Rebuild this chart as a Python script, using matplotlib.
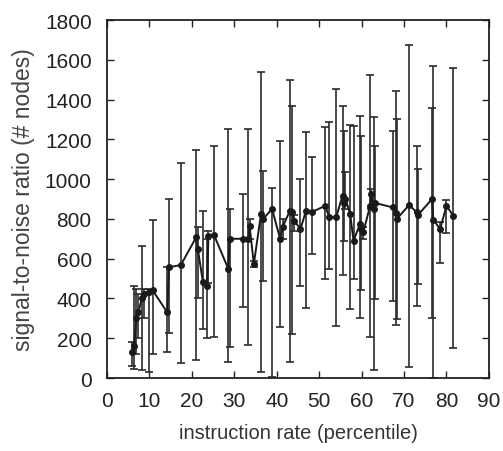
import numpy as np
import matplotlib
matplotlib.use('Agg')
import matplotlib.pyplot as plt

# instruction rate (percentile) and signal-to-noise ratio, with error bar ends
rate = [6.0, 6.4, 6.9, 7.4, 8.2, 8.8, 9.8, 10.8, 14.2, 14.6, 17.4, 21.0, 21.4,
        22.6, 23.6, 23.9, 25.2, 28.6, 28.9, 32.0, 33.3, 33.6, 34.6, 36.3, 36.8,
        38.9, 40.8, 41.4, 43.1, 43.5, 44.1, 45.6, 46.9, 48.2, 51.4, 52.4, 54.0,
        55.5, 55.8, 56.2, 57.3, 58.1, 59.6, 59.9, 60.4, 62.0, 62.3, 62.9, 63.2,
        67.3, 68.1, 68.3, 71.2, 73.0, 73.3, 76.6, 76.9, 78.5, 80.0, 81.6]
snr = [130, 160, 300, 330, 400, 420, 430, 440, 330, 557, 568, 707, 650,
       483, 464, 716, 720, 548, 700, 700, 700, 766, 573, 825, 800,
       850, 700, 760, 841, 833, 791, 749, 841, 833, 866, 808, 808,
       917, 880, 900, 825, 690, 774, 750, 733, 866, 925, 850, 880,
       858, 830, 800, 870, 833, 820, 900, 796, 749, 866, 816]
snr_low = [62, 45, 120, 200, 42, 300, 30, 120, 130, 226, 75, 90, 400,
           246, 200, 480, 205, 82, 155, 355, 168, 700, 560, 32, 489,
           5, 255, 700, 82, 221, 740, 464, 350, 623, 498, 548, 263,
           518, 690, 850, 347, 498, 300, 444, 700, 205, 850, 42, 397,
           389, 265, 297, 55, 360, 473, 300, 0, 577, 729, 149]
snr_high = [180, 464, 450, 420, 665, 450, 450, 796, 560, 900, 1081, 1148, 760,
            840, 700, 740, 1168, 1252, 850, 925, 1252, 800, 590, 1540, 1042,
            955, 1193, 800, 1500, 1366, 820, 1000, 1235, 1110, 1260, 1289, 1453,
            1369, 1243, 1034, 1274, 1269, 1319, 1218, 760, 1524, 950, 1311, 1165,
            1243, 1445, 1302, 1674, 1165, 1051, 1356, 1567, 786, 897, 1557]

xticks = [0, 10, 20, 30, 40, 50, 60, 70, 80, 90]
yticks = [0, 200, 400, 600, 800, 1000, 1200, 1400, 1600, 1800]

narrow = ['Liberation Sans Narrow', 'Liberation Sans', 'DejaVu Sans']
plt.rcParams['font.family'] = narrow

fig = plt.figure(figsize=(5.03, 4.52), dpi=100)
ax = fig.add_axes([0.2127, 0.1615, 0.7593, 0.792])

y = np.array(snr)
yerr = [y - np.array(snr_low), np.array(snr_high) - y]
ax.errorbar(rate, snr, yerr=yerr, fmt='none', ecolor='#2b2b2b', elinewidth=1.2,
            capsize=3, capthick=1.2)
ax.plot(rate, snr, color='#1a1a1a', lw=1.4, marker='o', markersize=4)

ax.set_xlim(0, 90)
ax.set_ylim(0, 1800)
ax.set_xticks(xticks)
ax.set_yticks(yticks)
ax.tick_params(direction='in', length=5, width=1, top=True, right=True,
               labelsize=15, colors='#222222')
ax.tick_params(axis='x', pad=9)
ax.tick_params(axis='y', pad=11)
for s in ax.spines.values():
    s.set_linewidth(1.3)
    s.set_color('#222222')

ax.set_xlabel('instruction rate (percentile)', fontsize=14.5, color='#333333', labelpad=10)
ax.set_ylabel('signal-to-noise ratio (# nodes)', fontsize=16.5, color='#444444',
              family=['Liberation Sans', 'DejaVu Sans'], labelpad=7)

fig.savefig('out.png', dpi=100)
